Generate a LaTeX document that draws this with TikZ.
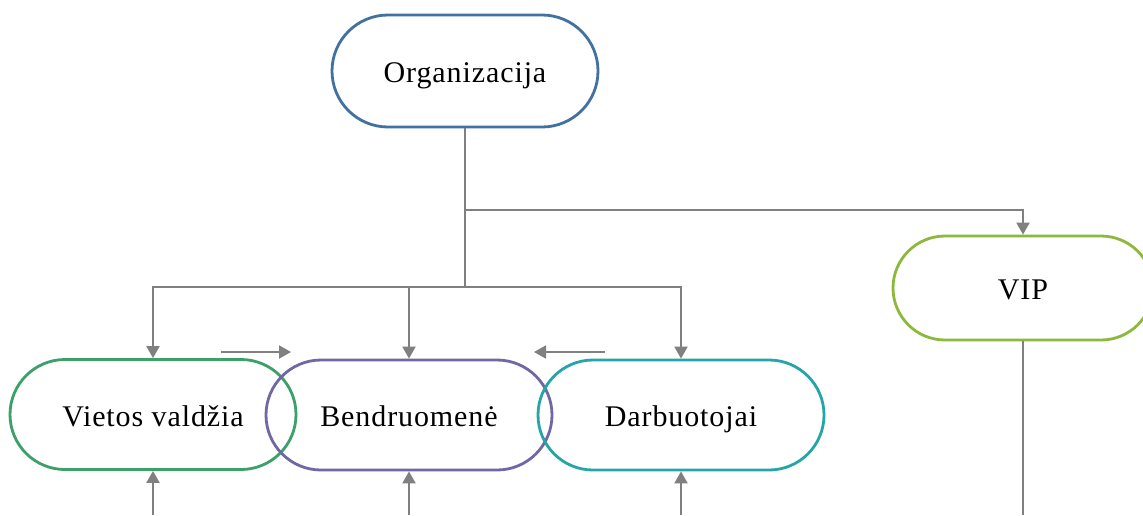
\documentclass[tikz,border=0pt]{standalone}
\usepackage{fontspec}
\setmainfont[LetterSpace=3]{Liberation Serif}
\usetikzlibrary{arrows.meta}
\definecolor{cOrg}{RGB}{65,113,160}
\definecolor{cVal}{RGB}{60,160,105}
\definecolor{cBen}{RGB}{112,104,165}
\definecolor{cDar}{RGB}{38,165,168}
\definecolor{cVip}{RGB}{140,185,60}
\definecolor{cLine}{RGB}{128,128,128}
\begin{document}
\begin{tikzpicture}[x=0.5pt,y=-0.5pt,
  box/.style={draw, line width=1.4pt, rounded corners=27.5pt, minimum width=143pt,
    minimum height=55pt, inner sep=0pt, text height=13.5pt, text depth=2pt,
    font=\fontsize{15}{18}\selectfont},
  conn/.style={draw=cLine, line width=1pt},
  arr/.style={conn, -{Triangle[length=6pt,width=6.5pt]}}]
\clip (0,0) rectangle (1143,515);
\useasboundingbox (0,0) rectangle (1143,515);
\fill[white] (0,0) rectangle (1143,515);
\coordinate (bot) at (0,515);
\node[box, draw=cOrg, minimum width=133pt, minimum height=56pt, rounded corners=28pt] (org) at (465,71) {Organizacija};
\node[box, draw=cVal] (val) at (153,414.5) {Vietos valdžia};
\node[box, draw=cBen] (ben) at (409,415) {Bendruomenė};
\node[box, draw=cDar] (dar) at (681,415) {Darbuotojai};
\node[box, draw=cVip, minimum width=130pt, minimum height=52pt, rounded corners=26pt] (vip) at (1023,288) {VIP};
\coordinate (j1) at (465,287);
\coordinate (j2) at (465,210);
\coordinate (ra1) at (221,352);
\coordinate (ra2) at (291,352);
\coordinate (la1) at (605,352);
\coordinate (la2) at (534,352);
\draw[conn] (org.south) -- (j1);
\draw[arr] (j1) -| (val.north);
\draw[arr] (ben.north |- j1) -- (ben.north);
\draw[arr] (j1) -| (dar.north);
\draw[arr] (j2) -| (vip.north);
\draw[arr] (ra1) -- (ra2);
\draw[arr] (la1) -- (la2);
\draw[arr] (val.south |- bot) -- (val.south);
\draw[arr] (ben.south |- bot) -- (ben.south);
\draw[arr] (dar.south |- bot) -- (dar.south);
\draw[conn] (vip.south) -- (vip.south |- bot);
\end{tikzpicture}
\end{document}
